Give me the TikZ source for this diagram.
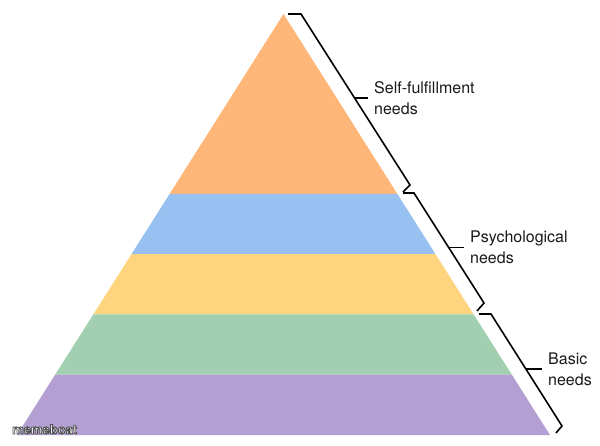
\documentclass[tikz,border=0pt]{standalone}
\usepackage{fontspec}
\setmainfont{TeX Gyre Heros}
\definecolor{selfcol}{HTML}{FFB679}
\definecolor{psycol}{HTML}{96C1F1}
\definecolor{yelcol}{HTML}{FFD47F}
\definecolor{grncol}{HTML}{A1CFAF}
\definecolor{purcol}{HTML}{B39FD1}
\newcommand{\outlined}[1]{{\color{white}\special{pdf:literal direct 2 Tr 0.9 w 0.3 G}#1\special{pdf:literal direct 0 Tr}}}

\begin{document}
\begin{tikzpicture}[x=1pt,y=-1pt,
	brace/.style={line width=1.6pt, line join=miter},
	needs/.style={anchor=west, align=left, inner sep=6pt, text=black!90, font=\fontsize{16}{21}\selectfont}]
	\useasboundingbox (0,0) rectangle (600,446);
	\fill[selfcol] (283.5,14) -- (397.4,194) -- (169.6,194) -- cycle;
	\fill[psycol] (169.6,194) -- (397.4,194) -- (435.6,254.25) -- (131.4,254.25) -- cycle;
	\fill[yelcol] (131.4,254.25) -- (435.6,254.25) -- (473.7,314.5) -- (93.3,314.5) -- cycle;
	\fill[grncol] (93.3,314.5) -- (473.7,314.5) -- (511.9,374.75) -- (55.1,374.75) -- cycle;
	\fill[purcol] (55.1,374.75) -- (511.9,374.75) -- (550,435) -- (17,435) -- cycle;

	\node[needs] (l1) at (368,98) {Self-fulfillment\\needs};
	\node[needs] (l2) at (464,247.5) {Psychological\\needs};
	\node[needs] (l3) at (542,369) {Basic\\needs};

	\coordinate (a1) at (288,14);
	\coordinate (b1) at (301,14);
	\coordinate (m1) at (354.2,98);
	\coordinate (c1) at (410,185);
	\coordinate (d1) at (403,192);
	\coordinate (a2) at (403,193);
	\coordinate (b2) at (414,193);
	\coordinate (m2) at (448.5,247.5);
	\coordinate (c2) at (484,303);
	\coordinate (d2) at (477,311);
	\coordinate (a3) at (479,314);
	\coordinate (b3) at (491,314);
	\coordinate (m3) at (525.8,369);
	\coordinate (c3) at (562,426);
	\coordinate (d3) at (556,433);

	\draw[brace] (a1) -- (b1) -- (c1) -- (d1);
	\draw[brace] (a2) -- (b2) -- (c2) -- (d2);
	\draw[brace] (a3) -- (b3) -- (c3) -- (d3);
	\draw[brace] (m1) -- (l1.west);
	\draw[brace] (m2) -- (l2.west);
	\draw[brace] (m3) -- (l3.west);

	\node (mark) [anchor=base west, inner sep=0pt, font=\bfseries\fontsize{13}{13}\selectfont] at (12,434) {\outlined{memeboat}};
\end{tikzpicture}
\end{document}
